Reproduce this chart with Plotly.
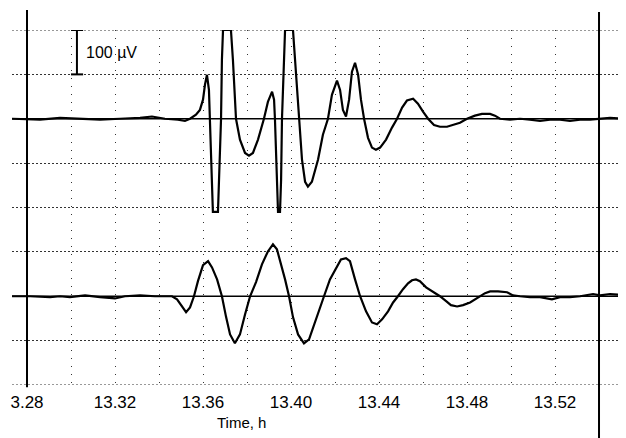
import plotly.graph_objects as go

# ---- data (time in hours, amplitude in microvolts relative to each trace's baseline) ----
time_top = [13.2732, 13.2859, 13.2950, 13.3041, 13.3132, 13.3223, 13.3314, 13.3368, 13.3427, 13.3486,
            13.3518, 13.3541, 13.3568, 13.3586, 13.3600, 13.3609, 13.3618, 13.3627, 13.3632, 13.3641,
            13.3645, 13.3668, 13.3673, 13.3677, 13.3682, 13.3686, 13.3691, 13.3727, 13.3736, 13.3750,
            13.3768, 13.3791, 13.3809, 13.3827, 13.3850, 13.3877, 13.3895, 13.3914, 13.3923, 13.3927,
            13.3936, 13.3941, 13.3950, 13.3955, 13.3959, 13.3968, 13.3973, 13.4009, 13.4018, 13.4036,
            13.4050, 13.4064, 13.4077, 13.4095, 13.4123, 13.4145, 13.4168, 13.4186, 13.4209, 13.4223,
            13.4236, 13.4250, 13.4264, 13.4277, 13.4291, 13.4305, 13.4318, 13.4332, 13.4350, 13.4368,
            13.4386, 13.4405, 13.4432, 13.4459, 13.4482, 13.4505, 13.4527, 13.4555, 13.4577, 13.4600,
            13.4623, 13.4650, 13.4677, 13.4709, 13.4736, 13.4768, 13.4800, 13.4836, 13.4868, 13.4905,
            13.4927, 13.4950, 13.4995, 13.5041, 13.5086, 13.5132, 13.5177, 13.5223, 13.5268, 13.5314,
            13.5359, 13.5400, 13.5450, 13.5523]
uv_top = [0, -2, 2, 0, -2, 0, 2, 5, 0, -2,
          -5, 0, 9, 20, 43, 77, 99, 65, 0, -137,
          -210, -210, -137, -47, 0, 133, 200, 200, 133, 0,
          -47, -77, -83, -77, -47, 0, 38, 61, 43, 0,
          -137, -210, -210, -137, 0, 133, 200, 200, 133, 0,
          -92, -142, -153, -142, -92, -36, 0, 54, 86, 65,
          20, 5, 43, 106, 126, 99, 43, 0, -43, -65,
          -70, -65, -47, -20, 0, 25, 41, 45, 34, 16,
          0, -14, -18, -18, -14, -9, 0, 7, 11, 11,
          7, 0, -2, 0, -2, -5, -2, -2, -5, -2,
          -2, 0, 2, 0]

time_bottom = [13.2732, 13.2814, 13.2905, 13.2950, 13.2995, 13.3064, 13.3132, 13.3200, 13.3245, 13.3314,
               13.3382, 13.3459, 13.3482, 13.3505, 13.3523, 13.3541, 13.3559, 13.3577, 13.3600, 13.3623,
               13.3641, 13.3664, 13.3686, 13.3705, 13.3723, 13.3745, 13.3768, 13.3791, 13.3814, 13.3841,
               13.3868, 13.3895, 13.3918, 13.3936, 13.3955, 13.3973, 13.3991, 13.4009, 13.4032, 13.4059,
               13.4082, 13.4105, 13.4127, 13.4150, 13.4177, 13.4205, 13.4227, 13.4250, 13.4268, 13.4291,
               13.4314, 13.4341, 13.4368, 13.4391, 13.4414, 13.4441, 13.4464, 13.4486, 13.4509, 13.4532,
               13.4550, 13.4568, 13.4586, 13.4614, 13.4645, 13.4677, 13.4705, 13.4727, 13.4755, 13.4782,
               13.4814, 13.4859, 13.4882, 13.4905, 13.4941, 13.4982, 13.5009, 13.5041, 13.5086, 13.5132,
               13.5186, 13.5223, 13.5268, 13.5314, 13.5373, 13.5405, 13.5450, 13.5523]
uv_bottom = [0, 0, -2, 0, -2, 2, -2, -5, 0, 2,
             0, 0, -7, -25, -36, -25, 0, 34, 70, 79,
             65, 38, 0, -47, -86, -106, -86, -41, 0, 32,
             72, 101, 117, 106, 72, 38, 0, -47, -86, -106,
             -97, -63, -29, 0, 38, 65, 83, 86, 79, 38,
             0, -34, -59, -63, -52, -34, -14, 0, 16, 29,
             36, 38, 34, 20, 11, 0, -11, -20, -23, -20,
             -14, 0, 7, 11, 11, 9, 2, 0, -2, -2,
             -7, -2, -2, 0, 5, 2, 5, 2]

tick_vals = [13.28, 13.30, 13.32, 13.34, 13.36, 13.38, 13.40, 13.42, 13.44, 13.46, 13.48, 13.50, 13.52, 13.54]
tick_text = ["3.28", "", "13.32", "", "13.36", "", "13.40", "", "13.44", "", "13.48", "", "13.52", ""]
y_grid = [-200, -100, 0, 100, 200, 300, 400, 500, 600]

scale_bar_uv = 100
scale_label = "100 \u00b5V"
x_title = "Time, h"

# ---- styling / placement ----
TOP_OFFSET = 400      # vertical separation of the upper trace (one grid = 100 uV)
FONT = "Liberation Sans, Arial, sans-serif"
GRID = "#333333"
PAGE_MARGIN = 8       # default body margin of the html page

fig = go.Figure()
fig.add_trace(go.Scatter(x=time_top, y=[v + TOP_OFFSET for v in uv_top], mode="lines",
                         line=dict(color="black", width=2.2), hoverinfo="skip", showlegend=False))
fig.add_trace(go.Scatter(x=time_bottom, y=uv_bottom, mode="lines",
                         line=dict(color="black", width=2.2), hoverinfo="skip", showlegend=False))

shapes = []
# edge grid lines (top and bottom), which plotly skips at the range limits
for yg in (y_grid[0], y_grid[-1]):
    shapes.append(dict(type="line", xref="paper", yref="y", x0=0, x1=1, y0=yg, y1=yg,
                       line=dict(color=GRID, width=1, dash="2px,2px"), layer="below"))
# baselines
for yb in (0, TOP_OFFSET):
    shapes.append(dict(type="line", xref="paper", yref="y", x0=0, x1=1, y0=yb, y1=yb,
                       line=dict(color="black", width=1.6), layer="above"))
# solid vertical frame lines
shapes.append(dict(type="line", xref="x", yref="paper", x0=tick_vals[0], x1=tick_vals[0],
                   y0=-0.006, y1=1.056, line=dict(color="black", width=2)))
shapes.append(dict(type="line", xref="x", yref="paper", x0=tick_vals[-1], x1=tick_vals[-1],
                   y0=-0.16, y1=1.051, line=dict(color="black", width=2)))
# scale bar
sb_x = 13.3027
shapes.append(dict(type="line", x0=sb_x, x1=sb_x, y0=600 - scale_bar_uv, y1=600,
                   line=dict(color="black", width=2)))
for yy in (600 - scale_bar_uv, 600):
    shapes.append(dict(type="line", x0=13.3000, x1=13.3055, y0=yy, y1=yy,
                       line=dict(color="black", width=2)))

annotations = [
    dict(x=13.3057, y=600 - scale_bar_uv / 2, xref="x", yref="y", text=scale_label,
         showarrow=False, xanchor="left", yanchor="middle",
         font=dict(family=FONT, size=16, color="black")),
    dict(x=13.3777, y=-0.107, xref="x", yref="paper", text=x_title, showarrow=False,
         xanchor="center", yanchor="middle", font=dict(family=FONT, size=15, color="black")),
]

fig.update_layout(
    width=626 - PAGE_MARGIN, height=438 - PAGE_MARGIN,
    margin=dict(l=12 - PAGE_MARGIN, r=0, t=30 - PAGE_MARGIN, b=53, autoexpand=False),
    paper_bgcolor="white", plot_bgcolor="white",
    shapes=shapes, annotations=annotations,
    showlegend=False,
    xaxis=dict(range=[13.27318, 13.55227], tickmode="array", tickvals=tick_vals, ticktext=tick_text,
               showgrid=True, gridcolor=GRID, gridwidth=1, griddash="1px,7px", automargin=False,
               zeroline=False, showline=False, ticks="", ticklabelstandoff=5,
               tickfont=dict(family=FONT, size=17, color="black")),
    yaxis=dict(range=[-200, 600], tickmode="array", tickvals=y_grid, showticklabels=False,
               showgrid=True, gridcolor=GRID, gridwidth=1, griddash="2px,2px", automargin=False,
               zeroline=False, showline=False, ticks=""),
)

fig.write_html("out.html")
